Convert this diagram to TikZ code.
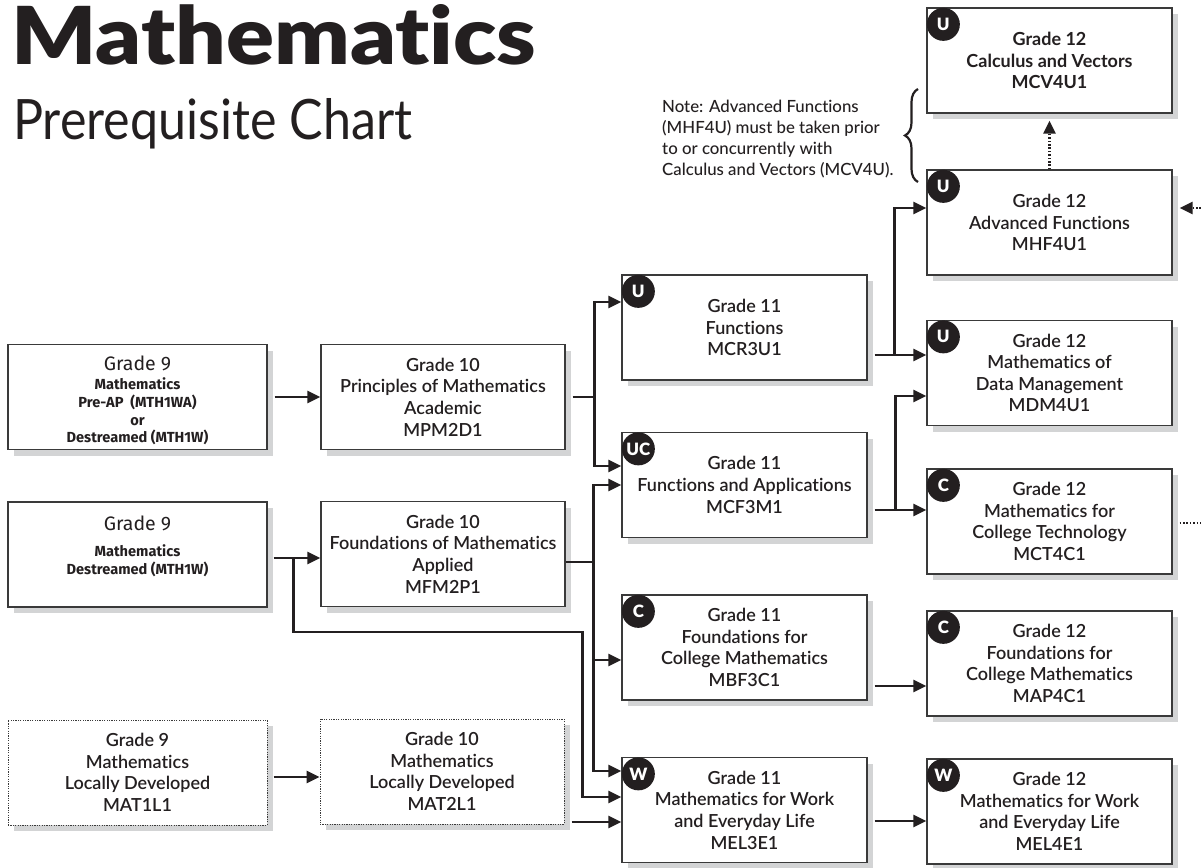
\documentclass[tikz,border=0pt]{standalone}
\usepackage{fontspec}
\IfFontExistsTF{Lato Semibold}{\setmainfont{Lato Semibold}[Ligatures=NoCommon, BoldFont={Lato Bold}]}{\setmainfont{Lato}[Ligatures=NoCommon]}
\IfFontExistsTF{Lato Black}{\newfontfamily\titlefont{Lato Black}[Ligatures=NoCommon]}{\newfontfamily\titlefont{Lato}[Ligatures=NoCommon, UprightFont={* Bold}]}
\newfontfamily\subfont{Lato}[Ligatures=NoCommon]
\IfFontExistsTF{Lato Medium}{\newfontfamily\notefont{Lato Medium}[Ligatures=NoCommon]}{\newfontfamily\notefont{Lato}[Ligatures=NoCommon]}
\newfontfamily\ninefont{Fira Sans}
\usetikzlibrary{arrows.meta,shadows,calc,decorations.pathreplacing}
\definecolor{ink}{HTML}{231F20}
\definecolor{boxline}{HTML}{3A3A3A}
\definecolor{shade}{HTML}{D3D4D5}
\begin{document}
\begin{tikzpicture}[x=1pt,y=-1pt,
  box/.style={draw=boxline, line width=1.3pt, fill=white, minimum width=245pt, minimum height=105pt,
    align=center, inner sep=0pt, text=ink, font=\fontsize{18}{21.6}\selectfont,
    drop shadow={shadow xshift=6pt, shadow yshift=-6pt, fill=shade, opacity=1}},
  dotbox/.style={box, line width=1pt, dash pattern=on 1.2pt off 1.2pt},
  ninebox/.style={box, minimum width=259pt},
  badge/.style={circle, fill=ink, text=white, minimum size=33pt, inner sep=0pt, font=\titlefont\fontsize{17}{17}\selectfont},
  ninetitle/.style={inner sep=0pt, text=ink, font=\ninefont\fontsize{19.5}{22}\selectfont},
  ninesub/.style={inner sep=0pt, align=center, text=ink, font=\ninefont\bfseries\fontsize{14.6}{17.8}\selectfont},
  line/.style={draw=ink, line width=2.6pt},
  thinline/.style={draw=ink, line width=1.1pt},
  conn/.style={line, -{Triangle[length=13pt,width=12pt]}},
  dline/.style={draw=ink, line width=2.4pt, dash pattern=on 1.6pt off 1.8pt},
  dconn/.style={dline, -{Triangle[length=13pt,width=12pt]}},
  note/.style={inner sep=0pt, align=left, text=ink, font=\notefont\fontsize{16.8}{21}\selectfont}
]
\useasboundingbox (0,0) rectangle (1201,867);
\fill[white] (0,0) rectangle (1201,867);

% titles
\node[anchor=south west, inner sep=0pt, text=ink] (title) at (11,65) {\resizebox{525pt}{60pt}{\titlefont Mathematics}};
\node[anchor=base west, inner sep=0pt, text=ink] (subtitle) at (13,139) {\resizebox{399pt}{41pt}{\subfont Prerequisite Chart}};

% note and brace
\node[note, anchor=west] (notetext) at (662,139) {Note: Advanced Functions\\(MHF4U) must be taken prior\\to or concurrently with\\Calculus and Vectors (MCV4U).};
\draw[draw=ink, line width=2.2pt, decorate, decoration={brace, amplitude=13pt}] (918,182) -- (918,89);

% Grade 9
\node[ninebox] (g9a) at (137.5,397) {};
\node[ninetitle] (g9at) at ($(g9a.center)+(0,-34)$) {Grade 9};
\node[ninesub] (g9as) at ($(g9a.center)+(0,14.5)$) {Mathematics\\Pre-AP\ \ (MTH1WA)\\or\\Destreamed (MTH1W)};
\node[ninebox] (g9b) at (137.5,554.5) {};
\node[ninetitle] (g9bt) at ($(g9b.center)+(0,-31.5)$) {Grade 9};
\node[ninesub] (g9bs) at ($(g9b.center)+(0,6.5)$) {Mathematics\\Destreamed (MTH1W)};
\node[dotbox, minimum width=259pt] (g9c) at (137.5,772.5) {Grade 9\\Mathematics\\Locally Developed\\MAT1L1};

% Grade 10
\node[box, minimum width=244pt] (g10a) at (443,397) {Grade 10\\Principles of Mathematics\\Academic\\MPM2D1};
\node[box, minimum width=244pt] (g10b) at (443,554) {Grade 10\\Foundations of Mathematics\\Applied\\MFM2P1};
\node[dotbox, minimum width=244pt] (g10c) at (442,771.5) {Grade 10\\Mathematics\\Locally Developed\\MAT2L1};

% Grade 11
\node[box] (g11a) at (744.5,327.5) {Grade 11\\Functions\\MCR3U1};
\node[box] (g11b) at (744.5,485) {Grade 11\\Functions and Applications\\MCF3M1};
\node[box] (g11c) at (744.5,647.5) {Grade 11\\Foundations for\\College Mathematics\\MBF3C1};
\node[box] (g11d) at (744.5,810) {Grade 11\\Mathematics for Work\\and Everyday Life\\MEL3E1};

% Grade 12
\node[box, font=\bfseries\fontsize{18}{21.6}\selectfont] (g12a) at (1049.5,60.5) {Grade 12\\Calculus and Vectors\\MCV4U1};
\node[box] (g12b) at (1049.5,222.5) {Grade 12\\Advanced Functions\\MHF4U1};
\node[box] (g12c) at (1049.5,373) {Grade 12\\Mathematics of\\Data Management\\MDM4U1};
\node[box] (g12d) at (1049.5,521.5) {Grade 12\\Mathematics for\\College Technology\\MCT4C1};
\node[box] (g12e) at (1049.5,663.5) {Grade 12\\Foundations for\\College Mathematics\\MAP4C1};
\node[box] (g12f) at (1049.5,811.5) {Grade 12\\Mathematics for Work\\and Everyday Life\\MEL4E1};

% badges
\node[badge] (b11a) at ($(g11a.north west)+(17,17)$) {U};
\node[badge] (b11b) at ($(g11b.north west)+(17,17)$) {UC};
\node[badge] (b11c) at ($(g11c.north west)+(17,17)$) {C};
\node[badge] (b11d) at ($(g11d.north west)+(17,17)$) {W};
\node[badge] (b12a) at ($(g12a.north west)+(17,17)$) {U};
\node[badge] (b12b) at ($(g12b.north west)+(17,17)$) {U};
\node[badge] (b12c) at ($(g12c.north west)+(17,17)$) {U};
\node[badge] (b12d) at ($(g12d.north west)+(17,17)$) {C};
\node[badge] (b12e) at ($(g12e.north west)+(17,17)$) {C};
\node[badge] (b12f) at ($(g12f.north west)+(17,17)$) {W};

% connectors: grade 9 -> 10
\draw[conn] ($(g9a.east)+(7,0)$) -- (g10a.west);
\draw[conn] ($(g9b.east)+(6,3.5)$) coordinate (jb0) -- ($(g10b.west)+(0,4)$);
\draw[conn] ($(g9c.east)+(6,4.5)$) -- ($(g10c.west)+(0,5.5)$);

% grade 10 principles -> grade 11
\draw[line] ($(g10a.east)+(7,0)$) -- ++(22,0) coordinate (ja);
\draw[conn] (ja) |- ($(g11a.west)+(0,-25.5)$);
\draw[conn] (ja) |- ($(g11b.west)+(0,-19)$);

% grade 9 destreamed branch -> work
\coordinate (jb) at ($(jb0)+(20,0)$);
\draw[conn] (jb) -- ++(0,74) -- ++(289,0) |- ($(g11d.west)+(0,-13)$);

% grade 10 foundations -> grade 11
\draw[thinline] ($(g10b.east)+(0,8)$) -- ++(28,0) coordinate (jc);
\draw[conn] (jc) |- (g11b.west);
\draw[conn] (jc) |- ($(g11d.west)+(0,-39)$);
\coordinate (jd) at ($(g11c.west)+(-26,12.5)$);
\draw[conn] (jd) -- ($(g11c.west)+(0,12.5)$);

% grade 10 local -> work
\draw[conn] ($(g10c.east)+(7,50.5)$) -- ($(g11d.west)+(0,12)$);

% grade 11 -> grade 12
\draw[conn] ($(g11a.east)+(7,27.5)$) -- ($(g12c.west)+(0,-18)$);
\draw[conn] ($(g11a.east)+(27,27.5)$) |- ($(g12b.west)+(0,-14.5)$);
\draw[conn] ($(g11b.east)+(7,25)$) -- ($(g12d.west)+(0,-11.5)$);
\draw[conn] ($(g11b.east)+(28,25)$) |- ($(g12c.west)+(0,23)$);
\draw[conn] ($(g11c.east)+(7,38.5)$) -- ($(g12e.west)+(0,22.5)$);
\draw[conn] ($(g11d.east)+(7,11)$) -- ($(g12f.west)+(0,9.5)$);

% dotted
\draw[dconn] (g12b.north) -- ($(g12a.south)+(0,7)$);
\coordinate (edgea) at (1201,208);
\draw[dconn] (edgea) -- ($(g12b.east)+(7,-14.5)$);
\coordinate (edgeb) at (1201,523);
\draw[dline] ($(g12d.east)+(7,1.5)$) -- (edgeb);
\end{tikzpicture}
\end{document}
